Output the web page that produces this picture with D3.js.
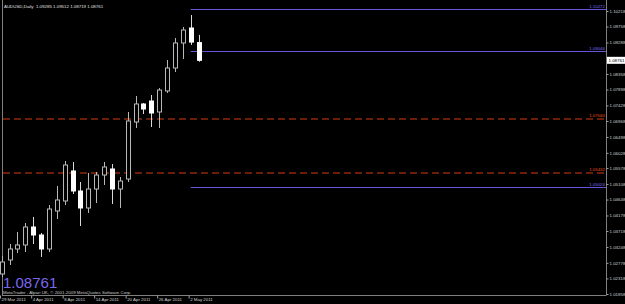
<!DOCTYPE html>
<html>
<head>
<meta charset="utf-8">
<script src="https://cdn.jsdelivr.net/npm/d3@7"></script>
<style>
html,body{margin:0;padding:0;background:#000;overflow:hidden;}
svg{display:block;}
text{font-family:"Liberation Sans",Arial,sans-serif;}
</style>
</head>
<body>
<svg id="chart" width="625" height="304"></svg>
<script>
// ---- data ----
const dates = ["29 Mar","30 Mar","31 Mar","1 Apr","4 Apr","5 Apr","6 Apr","7 Apr","8 Apr",
  "11 Apr","12 Apr","13 Apr","14 Apr","15 Apr","18 Apr","19 Apr","20 Apr","21 Apr","22 Apr",
  "25 Apr","26 Apr","27 Apr","28 Apr","29 Apr","2 May","3 May"];
const opens  = [1.02449,1.02863,1.03188,1.03306,1.03837,1.03601,1.03188,1.04310,1.04606,
  1.05492,1.04901,1.04399,1.04960,1.05373,1.05551,1.04960,1.05255,1.06939,1.07471,
  1.07559,1.07235,1.07855,1.08534,1.09273,1.09716,1.09285];
const highs  = [1.02981,1.03335,1.03690,1.03956,1.04133,1.03660,1.04487,1.05049,1.05787,
  1.05758,1.05167,1.05433,1.05462,1.05758,1.05698,1.05314,1.07235,1.07707,1.07500,
  1.07737,1.07943,1.08771,1.09420,1.09745,1.10100,1.09512];
const lows   = [1.02360,1.02715,1.03069,1.03099,1.03335,1.02951,1.03099,1.04074,1.04487,
  1.04812,1.03867,1.04251,1.04546,1.05078,1.04517,1.04399,1.05167,1.06762,1.07175,
  1.06791,1.06762,1.07796,1.08416,1.08800,1.09214,1.08719];
const closes = [1.02804,1.03188,1.03306,1.03837,1.03601,1.03188,1.04369,1.04635,1.05669,
  1.04901,1.04399,1.04960,1.05373,1.05610,1.04960,1.05196,1.06969,1.07471,1.07323,
  1.07205,1.07884,1.08534,1.09273,1.09657,1.09300,1.08761];

// 1.08818 is hidden behind the current-price box in the reference
const priceTicks = [1.10218,1.09758,1.09288,1.08358,1.07898,1.07428,1.06968,1.06498,
  1.06028,1.05578,1.05108,1.04648,1.04178,1.03718,1.03248,1.02778,1.02318,1.01858];
const dateTickKeys   = ["29 Mar","4 Apr","8 Apr","14 Apr","20 Apr","26 Apr","2 May"];
const dateTickLabels = ["29 Mar 2011","4 Apr 2011","8 Apr 2011","14 Apr 2011","20 Apr 2011","26 Apr 2011","2 May 2011"];

const solidLevels = [1.10272, 1.09046, 1.05024];
const solidStart = "2 May";
const dashedLevels = [1.07040, 1.05432];

const symbolTitle = "AUDUSD,Daily";
const currentPrice = 1.08761;
const copyright = "MetaTrader - Alpari UK, \u00A9 2001-2009 MetaQuotes Software Corp.";

// ---- drawing ----
const svg = d3.select("#chart");
const W = 625, H = 304;
const plotLeft = 2, plotRight = 606, plotBottom = 295;

svg.append("rect").attr("width", W).attr("height", H).attr("fill", "#000");

const x = d3.scalePoint().domain(dates).range([1.7, 198.5]);
const y = d3.scaleLinear().domain([1.01858, 1.10218]).range([294, 11]);

const fmt = d3.format(".5f");
const small = 4.4;

// frame
svg.append("line").attr("x1", plotLeft + 0.5).attr("x2", plotLeft + 0.5).attr("y1", 0).attr("y2", plotBottom)
  .attr("stroke", "#808080").attr("stroke-width", 1);
svg.append("line").attr("x1", plotLeft).attr("x2", plotRight + 0.5).attr("y1", plotBottom + 0.5).attr("y2", plotBottom + 0.5)
  .attr("stroke", "#808080").attr("stroke-width", 1);
svg.append("line").attr("x1", plotRight + 0.5).attr("x2", plotRight + 0.5).attr("y1", 0).attr("y2", plotBottom)
  .attr("stroke", "#808080").attr("stroke-width", 1);

// right price axis
const yAxis = d3.axisRight(y).tickValues(priceTicks).tickSize(2).tickPadding(1).tickFormat(fmt);
const gy = svg.append("g").attr("transform", `translate(${plotRight + 0.5},0)`).call(yAxis);
gy.select(".domain").remove();
gy.selectAll(".tick line").attr("stroke", "#a0a0a0");
gy.selectAll(".tick text").attr("fill", "#d0d0d0").attr("font-size", small)
  .attr("font-family", "Liberation Sans, Arial, sans-serif");

// bottom date axis
const xAxis = d3.axisBottom(x).tickValues(dateTickKeys).tickSize(3)
  .tickFormat((d) => dateTickLabels[dateTickKeys.indexOf(d)]);
const gx = svg.append("g").attr("transform", `translate(0,${plotBottom + 0.5})`).call(xAxis);
gx.select(".domain").remove();
gx.selectAll(".tick").attr("transform", d => `translate(${Math.max(0.5, x(d) - 1.5)},0)`);
gx.selectAll(".tick line").attr("stroke", "#a0a0a0");
gx.selectAll(".tick text").attr("fill", "#d0d0d0").attr("font-size", small)
  .attr("text-anchor", "start").attr("x", 1).attr("y", 2).attr("dy", "0.71em")
  .attr("font-family", "Liberation Sans, Arial, sans-serif");

// dashed red levels
svg.selectAll(".dlev").data(dashedLevels).enter().append("line")
  .attr("x1", plotLeft + 1).attr("x2", plotRight)
  .attr("y1", d => Math.round(y(d))).attr("y2", d => Math.round(y(d)))
  .attr("stroke", "#8e280a").attr("stroke-width", 1.5).attr("stroke-dasharray", "7,4");
svg.selectAll(".dlab").data(dashedLevels).enter().append("text")
  .attr("x", plotRight - 1).attr("y", d => Math.round(y(d)) - 2)
  .attr("text-anchor", "end").attr("font-size", small).attr("fill", "#e8501a")
  .text(d => fmt(d));

// solid purple levels
svg.selectAll(".slev").data(solidLevels).enter().append("line")
  .attr("x1", x(solidStart)).attr("x2", plotRight)
  .attr("y1", d => Math.round(y(d)) + 0.5).attr("y2", d => Math.round(y(d)) + 0.5)
  .attr("stroke", "#6655d8").attr("stroke-width", 1);
svg.selectAll(".slab").data(solidLevels).enter().append("text")
  .attr("x", plotRight - 1).attr("y", d => Math.round(y(d)) - 1.5)
  .attr("text-anchor", "end").attr("font-size", small).attr("fill", "#7b6cf0")
  .text(d => fmt(d));

// candles
const bars = dates.map((d, i) => ({d, o: opens[i], h: highs[i], l: lows[i], c: closes[i]}));
const bw = 5;
const g = svg.append("g");
g.selectAll(".wick").data(bars).enter().append("line")
  .attr("x1", b => Math.round(x(b.d)) + 0.5).attr("x2", b => Math.round(x(b.d)) + 0.5)
  .attr("y1", b => y(b.h)).attr("y2", b => y(b.l))
  .attr("stroke", b => b.c >= b.o ? "#b8b8b8" : "#d8d8d8").attr("stroke-width", 1);
g.selectAll(".body").data(bars).enter().append("rect")
  .attr("x", b => Math.round(x(b.d)) - 2 + 0.5)
  .attr("width", bw - 1)
  .attr("y", b => y(Math.max(b.o, b.c)))
  .attr("height", b => Math.max(1, Math.abs(y(b.o) - y(b.c))))
  .attr("fill", b => b.c >= b.o ? "#000" : "#ffffff")
  .attr("stroke", b => b.c >= b.o ? "#b8b8b8" : "#ffffff")
  .attr("stroke-width", 1);

// current price box
const cy = y(currentPrice);
svg.append("rect").attr("x", plotRight + 1).attr("y", cy - 3.5).attr("width", W - plotRight - 1).attr("height", 7)
  .attr("fill", "#ffffff");
svg.append("text").attr("x", plotRight + 2.5).attr("y", cy).attr("dy", "0.35em")
  .attr("font-size", small).attr("fill", "#000").text(fmt(currentPrice));

// title
svg.append("text").attr("x", 4).attr("y", 7.5).attr("font-size", small).attr("fill", "#e0e0e0")
  .attr("xml:space", "preserve")
  .text(`${symbolTitle}  ${fmt(opens[opens.length-1])} ${fmt(highs[highs.length-1])} ${fmt(lows[lows.length-1])} ${fmt(closes[closes.length-1])}`);

// big price
svg.append("text").attr("x", 3).attr("y", 288).attr("font-size", 15).attr("fill", "#7b68ee")
  .text(fmt(currentPrice));

// copyright
svg.append("text").attr("x", 3).attr("y", 293.5).attr("font-size", small).attr("fill", "#c8c8c8")
  .text(copyright);
</script>
</body>
</html>
